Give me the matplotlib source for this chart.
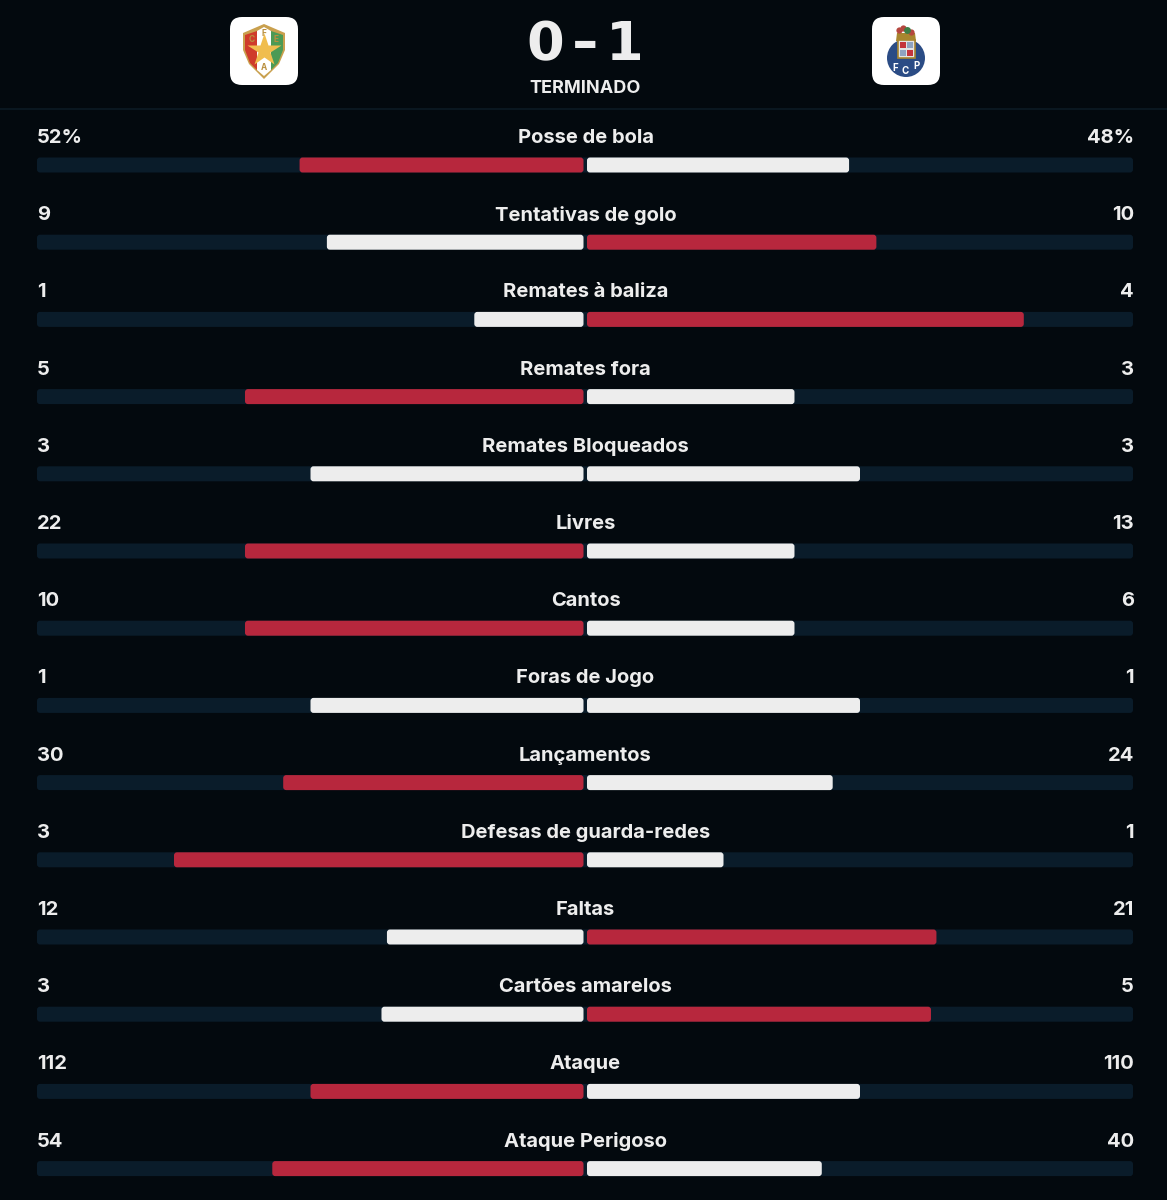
import numpy as np
import matplotlib
matplotlib.use('Agg')
from matplotlib import pyplot as plt
from matplotlib.patches import FancyBboxPatch, Polygon, Circle, Rectangle

stats = ['Posse de bola', 'Tentativas de golo', 'Remates à baliza', 'Remates fora',
         'Remates Bloqueados', 'Livres', 'Cantos', 'Foras de Jogo', 'Lançamentos',
         'Defesas de guarda-redes', 'Faltas', 'Cartões amarelos', 'Ataque', 'Ataque Perigoso']
home_labels = ['52%', '9', '1', '5', '3', '22', '10', '1', '30', '3', '12', '3', '112', '54']
away_labels = ['48%', '10', '4', '3', '3', '13', '6', '1', '24', '1', '21', '5', '110', '40']
# bar share of each half
home_share = [0.52, 0.47, 0.20, 0.62, 0.50, 0.62, 0.62, 0.50, 0.55, 0.75, 0.36, 0.37, 0.50, 0.57]
away_share = [0.48, 0.53, 0.80, 0.38, 0.50, 0.38, 0.38, 0.50, 0.45, 0.25, 0.64, 0.63, 0.50, 0.43]

BG = '#03090e'
TRACK = '#0a1c2a'
RED = '#b7273d'
WHITE = '#ededed'
FONT = 'Inter'

fig = plt.figure(figsize=(11.67, 12), dpi=100, facecolor=BG)
ax = fig.add_axes([0, 0, 1, 1])
ax.set_xlim(0, 1167)
ax.set_ylim(1200, 0)
ax.axis('off')


def rbar(x0, x1, y, color, h=15, r=3):
    ax.add_patch(FancyBboxPatch((x0 + r, y - h / 2 + r), x1 - x0 - 2 * r, h - 2 * r,
                                boxstyle='round,pad=%d,rounding_size=%d' % (r, r),
                                fc=color, ec='none'))


# header
ax.plot([0, 1167], [108.5, 108.5], color='#0c1a24', lw=1.2)
ax.text(545.5, 40, '0', color=WHITE, fontsize=39, fontweight='bold', family='DejaVu Sans',
        ha='center', va='center_baseline')
ax.text(585, 40, '-', color=WHITE, fontsize=44, fontweight='bold', family=FONT,
        ha='center', va='center_baseline')
ax.text(625, 40, '1', color=WHITE, fontsize=39, fontweight='bold', family='DejaVu Sans',
        ha='center', va='center_baseline')
ax.text(585.5, 86.5, 'TERMINADO', color=WHITE, fontsize=13, fontweight='bold', family=FONT,
        ha='center', va='center_baseline')

# home crest
rbar(230, 298, 51, 'white', h=68, r=12)
ax.add_patch(Polygon([(243, 33), (264, 24), (285, 33), (285, 50), (279, 64), (264, 79),
                      (249, 64), (243, 50)], fc='#c9a04e', ec='none'))
ax.add_patch(Polygon([(245, 35), (257, 31), (257, 70), (250, 63), (245, 50)], fc='#cf3b2b', ec='none'))
ax.add_patch(Polygon([(257, 31), (264, 27), (271, 31), (271, 70), (264, 76), (257, 70)], fc='white', ec='none'))
ax.add_patch(Polygon([(271, 31), (283, 35), (283, 50), (278, 63), (271, 70)], fc='#4c9a55', ec='none'))
ax.plot([264], [50], marker='*', ms=25, color='#f0bd4e', mec='none')
for s, x, y in [('F', 264, 33), ('C', 252, 40), ('E', 276, 40), ('A', 264, 67)]:
    ax.text(x, y, s, color='#b98f3e', fontsize=6, fontweight='bold', family=FONT, ha='center', va='center')

# away crest
rbar(872, 940, 51, 'white', h=68, r=12)
ax.add_patch(Circle((906, 58), 19, fc='#2b4c85', ec='none'))
ax.add_patch(Polygon([(897, 33), (915, 33), (916, 41), (896, 41)], fc='#a8862f', ec='none'))
ax.plot([899, 903, 911], [30, 28, 32], ls='none', marker='o', ms=4.5, color='#b5473f', mec='none')
ax.plot([907], [30], marker='o', ms=5, color='#3e7d45', mec='none')
ax.add_patch(Rectangle((898, 40), 17, 18, fc='#e4e4e4', ec='#a8862f', lw=1.2))
ax.add_patch(Rectangle((900, 42), 6, 6, fc='#c4343c', ec='none'))
ax.add_patch(Rectangle((907, 42), 6, 6, fc='#8fa3c0', ec='none'))
ax.add_patch(Rectangle((900, 50), 6, 6, fc='#8fa3c0', ec='none'))
ax.add_patch(Rectangle((907, 50), 6, 6, fc='#c4343c', ec='none'))
for s, x, y in [('F', 895, 68), ('C', 905, 71), ('P', 916, 66)]:
    ax.text(x, y, s, color='white', fontsize=7, fontweight='bold', family=FONT, ha='center', va='center')

# stat rows
for i, name in enumerate(stats):
    ty = 136 + i * 77.2
    by = 165 + i * 77.2
    ax.text(585.5, ty, name, color=WHITE, fontsize=14.5, fontweight='bold', family=FONT,
            ha='center', va='center_baseline')
    ax.text(37, ty, home_labels[i], color=WHITE, fontsize=14.5, fontweight='bold', family=FONT,
            ha='left', va='center_baseline')
    ax.text(1134, ty, away_labels[i], color=WHITE, fontsize=14.5, fontweight='bold', family=FONT,
            ha='right', va='center_baseline')
    rbar(37, 1133, by, TRACK)
    # bigger side gets the red bar, ties stay white
    hc = RED if home_share[i] > away_share[i] else WHITE
    ac = RED if away_share[i] > home_share[i] else WHITE
    if name == 'Ataque':
        hc = RED
    rbar(583.5 - 546 * home_share[i], 583.5, by, hc)
    rbar(587, 587 + 546 * away_share[i], by, ac)

fig.savefig('out.png', dpi=100, facecolor=BG)
